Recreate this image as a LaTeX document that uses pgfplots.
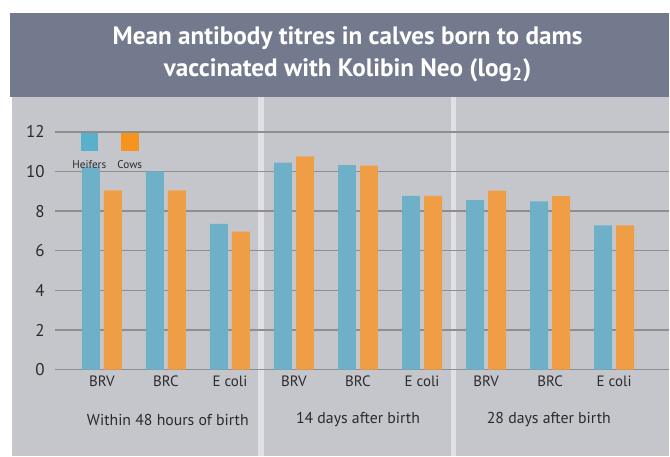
\documentclass[border=0pt]{standalone}
\usepackage{fontspec}
\setmainfont{PT Sans}
\usepackage{pgfplots}
\pgfplotsset{compat=1.18}
\definecolor{band}{HTML}{737A8E}
\definecolor{panel}{HTML}{C5C6CB}
\definecolor{sep}{HTML}{DFDFE5}
\definecolor{heif}{HTML}{6DB0C8}
\definecolor{cows}{HTML}{F09E46}
\definecolor{heifL}{HTML}{58B0CC}
\definecolor{cowsL}{HTML}{F7941D}
\definecolor{gridc}{HTML}{8E8E8E}
\definecolor{txt}{HTML}{2B2B2B}
\begin{document}
\begin{tikzpicture}
\begin{scope}[x=0.5pt,y=0.5pt]
\useasboundingbox (0,0) rectangle (670,457);
\fill[white] (0,0) rectangle (670,457);
\fill[panel] (12,0) rectangle (670,360);
\fill[band] (10,360) rectangle (670,444);
\fill[sep] (258,0) rectangle (264,360);
\fill[sep] (451,0) rectangle (457,360);
\node[text=white, font=\fontsize{12.6}{16}\selectfont\bfseries, align=center] at (348,403) {Mean antibody titres in calves born to dams\\vaccinated with Kolibin Neo (log\textsubscript{2})};
\end{scope}
\begin{axis}[
  width=307.5pt, height=119pt, scale only axis,
  at={(27.5pt,43.5pt)}, anchor=south west,
  xmin=-0.733, xmax=8.861, ymin=0, ymax=12,
  axis line style={draw=none},
  major tick length=0pt,
  ytick={0,2,...,12},
  ymajorgrids, grid style={draw=gridc, line width=0.75pt},
  xtick={0,...,8},
  xticklabels={BRV,BRC,E coli,BRV,BRC,E coli,BRV,BRC,E coli},
  /pgf/number format/assume math mode=true,
  yticklabel style={font=\fontsize{8.5}{10}\selectfont, text=txt, inner sep=0pt, xshift=-5pt},
  xticklabel style={font=\fontsize{7.5}{8}\selectfont, text=txt, inner sep=0pt, yshift=-3pt},
  clip=false,
  legend image code/.code={},
  legend style={draw=none, fill=none, inner sep=0pt, legend columns=2,
    nodes={inner sep=0pt, font=\fontsize{5.6}{6}\selectfont, text=txt},
    at={(axis cs:0.12,11.95)}, anchor=north},
  legend cell align=center,
]
\addplot[ybar, bar width=0.28, bar shift=-0.172, fill=heif, draw=none] coordinates {
 (0,10.25) (1,10.0) (2,7.35) (3,10.45) (4,10.32) (5,8.77) (6,8.56) (7,8.49) (8,7.28)};
\addlegendentry{\makebox[20.25pt]{\shortstack{\textcolor{heifL}{\rule{8.8pt}{9pt}}\\[1.5pt]Heifers}}}
\addplot[ybar, bar width=0.28, bar shift=0.172, fill=cows, draw=none] coordinates {
 (0,9.05) (1,9.05) (2,6.97) (3,10.76) (4,10.30) (5,8.77) (6,9.04) (7,8.76) (8,7.28)};
\addlegendentry{\makebox[20.25pt]{\shortstack{\textcolor{cowsL}{\rule{8.8pt}{9pt}}\\[1.5pt]Cows}}}
\node[font=\fontsize{7.9}{9}\selectfont, text=txt] at (axis cs:1.03,0) [yshift=-25pt] {Within 48 hours of birth};
\node[font=\fontsize{7.9}{9}\selectfont, text=txt] at (axis cs:4,0) [yshift=-25pt] {14 days after birth};
\node[font=\fontsize{7.9}{9}\selectfont, text=txt] at (axis cs:6.98,0) [yshift=-25pt] {28 days after birth};
\end{axis}
\end{tikzpicture}
\end{document}
